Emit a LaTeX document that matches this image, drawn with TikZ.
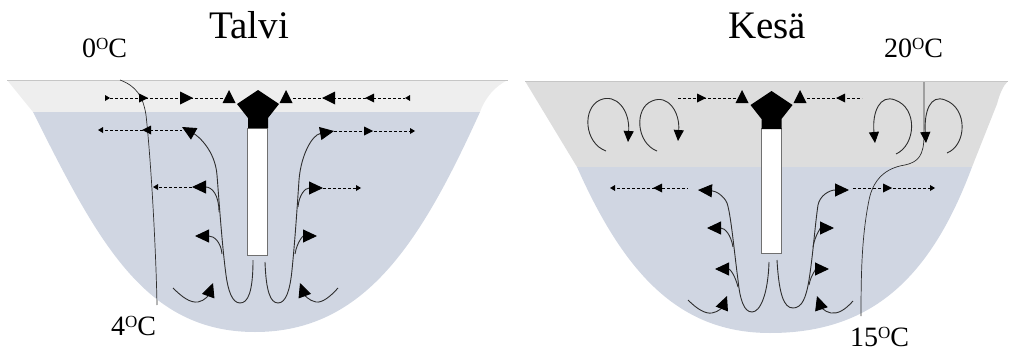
\documentclass[tikz,border=0pt]{standalone}
\usepackage{fontspec}
\setmainfont{Liberation Serif}
\usetikzlibrary{arrows.meta}

\definecolor{icelayer}{HTML}{EEEEEE}
\definecolor{warmlayer}{HTML}{DDDDDD}
\definecolor{water}{HTML}{D0D6E2}
\definecolor{rim}{HTML}{C6C6C6}
\definecolor{flow}{HTML}{2E2E2E}
\definecolor{poleedge}{HTML}{707070}

% superscript "O" used in the temperature labels
\newcommand\tempsup{\raisebox{7.5pt}{\fontsize{17}{17}\selectfont O}}

\tikzset{
  flowline/.style={draw=flow, line width=0.9pt,
    -{Triangle[length=14pt,width=13pt,color=black,fill=black]}},
  swirl/.style={draw=flow, line width=0.9pt,
    -{Triangle[length=11pt,width=10pt,color=black,fill=black]}},
  isotherm/.style={draw=flow, line width=0.7pt},
  dsh/.style={draw=black, line width=0.8pt, dash pattern=on 3pt off 2pt},
  ttl/.style={font=\fontsize{39}{41}\selectfont, inner sep=0pt},
  lbl/.style={font=\fontsize{28}{30}\selectfont, inner sep=0pt},
  tipbig/.pic={\fill (0,0) -- (-13,6.5) -- (-13,-6.5) -- cycle;},
  tipmid/.pic={\fill (0,0) -- (-9,4.5) -- (-9,-4.5) -- cycle;},
  tiptiny/.pic={\fill (0,0) -- (-5,3) -- (-5,-3) -- cycle;},
  aerator/.pic={
    \fill (258,90) -- (279,104) -- (268,118) -- (268,128) -- (248,128)
          -- (248,118) -- (237,104) -- cycle;
  },
}

\begin{document}
\begin{tikzpicture}[x=1pt,y=-1pt]
\useasboundingbox (0,0) rectangle (1014,353);

%% ---------------- winter basin ----------------
\fill[icelayer] (7,80) -- (508,80) .. controls (495,86) and (485,98) .. (480,112)
  -- (33,112) -- cycle;
\draw[rim, line width=0.8pt] (7,80) -- (508,80);
\fill[water] (33,112) .. controls (98,242) and (145,332) .. (255,332)
  .. controls (365,332) and (421,242) .. (480,112) -- cycle;

% isotherm 0 -> 4 C
\draw[isotherm] (120,80) .. controls (136,86) and (143,96) .. (146,115)
  .. controls (151,160) and (156,250) .. (157,305);

% surface flow towards the aerator
\draw[dsh] (110,98) -- (223,98);
\pic at (110,98) {tiptiny};
\pic at (148,98) {tipmid};
\pic at (193,98) {tipbig};
\pic[rotate=90] at (229,90) {tipbig};
\pic[rotate=90] at (286,90) {tipbig};
\draw[dsh] (293,98) -- (405,98);
\pic[rotate=180] at (322,98) {tipbig};
\pic[rotate=180] at (365,98) {tipmid};
\pic[rotate=180] at (405,98) {tiptiny};

% outflow under the ice
\draw[dsh] (100,130) -- (182,130);
\pic[rotate=180] at (98,130) {tiptiny};
\pic[rotate=180] at (142,130) {tipmid};
\draw[dsh] (334,131) -- (413,131);
\pic at (373,131) {tipmid};
\pic at (415,131) {tiptiny};

% rising plume, left side
\draw[flowline] (253,260) .. controls (253,292) and (248,303) .. (240,303)
  .. controls (232,303) and (228,290) .. (226,275)
  .. controls (222,245) and (219,200) .. (217,175)
  .. controls (215,150) and (198,136) .. (182,127);
\draw[flowline] (219,212) .. controls (219,195) and (212,187) .. (192,187);
\draw[flowline] (222,254) .. controls (221,242) and (214,236) .. (195,236);
% rising plume, right side
\draw[flowline] (265,262) .. controls (266,290) and (270,303) .. (278,303)
  .. controls (286,303) and (290,290) .. (292,270)
  .. controls (295,240) and (297,210) .. (299,180)
  .. controls (301,155) and (312,135) .. (334,131);
\draw[flowline] (298,207) .. controls (299,195) and (305,188) .. (323,188);
\draw[flowline] (295,254) .. controls (297,242) and (303,236) .. (317,236);

\draw[dsh] (192,187) -- (155,187);
\pic[rotate=180] at (153,187) {tiptiny};
\draw[dsh] (323,188) -- (358,188);
\pic at (361,188) {tiptiny};

% inflow near the bottom
\draw[flowline] (173,288) .. controls (182,297) and (190,303) .. (198,302)
  .. controls (205,301) and (209,294) .. (213,283);
\draw[flowline] (338,288) .. controls (330,297) and (322,303) .. (316,302)
  .. controls (309,301) and (304,294) .. (300,283);

% aerator
\draw[fill=white, draw=poleedge, line width=0.8pt] (247,128) rectangle (267,255);
\pic {aerator};

%% ---------------- summer basin ----------------
\fill[warmlayer] (525,81) -- (1008,81) .. controls (1003,86) and (1000,93) .. (997,104)
  -- (972,167) -- (577,167) -- cycle;
\draw[rim, line width=0.8pt] (525,81) -- (1008,81);
\fill[water] (577,167) .. controls (625,275) and (680,333) .. (770,333)
  .. controls (870,333) and (930,280) .. (972,167) -- cycle;

% isotherm 20 -> 15 C
\draw[isotherm] (924,82) -- (924,135) .. controls (924,156) and (918,162) .. (905,165)
  .. controls (885,168) and (873,180) .. (869,200)
  .. controls (862,235) and (861,270) .. (861,316);

% surface flow towards the aerator
\draw[dsh] (678,98) -- (736,98);
\pic at (706,98) {tipmid};
\pic[rotate=90] at (742,90) {tipbig};
\draw[dsh] (807,98) -- (862,98);
\pic[rotate=90] at (800,90) {tipbig};
\pic[rotate=180] at (836,98) {tipmid};

% mixing eddies in the warm layer
\draw[swirl] (606,151) .. controls (584,143) and (582,108) .. (600,100)
  .. controls (616,93) and (630,110) .. (628,142);
\draw[swirl] (657,151) .. controls (636,143) and (634,108) .. (652,101)
  .. controls (668,94) and (680,112) .. (678,141);
\draw[swirl] (896,154) .. controls (916,145) and (918,108) .. (895,100)
  .. controls (880,94) and (872,112) .. (875,143);
\draw[swirl] (947,153) .. controls (967,145) and (968,108) .. (945,100)
  .. controls (930,94) and (924,112) .. (926,143);

% outflow below the warm layer
\draw[dsh] (612,188) -- (688,188);
\pic[rotate=180] at (610,188) {tiptiny};
\pic[rotate=180] at (653,188) {tipmid};
\draw[dsh] (853,188) -- (932,188);
\pic at (892,188) {tipmid};
\pic at (935,188) {tiptiny};

% rising plume, left side
\draw[flowline] (769,262) .. controls (768,295) and (760,312) .. (752,312)
  .. controls (744,312) and (740,300) .. (738,280)
  .. controls (734,250) and (731,215) .. (727,203)
  .. controls (724,196) and (716,191) .. (698,190);
\draw[flowline] (733,247) .. controls (731,235) and (725,228) .. (707,228);
\draw[flowline] (738,287) .. controls (735,275) and (730,269) .. (715,269);
% rising plume, right side
\draw[flowline] (777,260) .. controls (779,295) and (784,308) .. (793,308)
  .. controls (802,308) and (806,298) .. (809,280)
  .. controls (813,255) and (815,225) .. (818,205)
  .. controls (820,195) and (830,190) .. (849,190);
\draw[flowline] (813,247) .. controls (815,235) and (821,228) .. (834,228);
\draw[flowline] (809,285) .. controls (811,274) and (817,269) .. (829,269);

% inflow near the bottom
\draw[flowline] (688,300) .. controls (697,309) and (705,314) .. (712,313)
  .. controls (719,312) and (723,306) .. (727,296);
\draw[flowline] (853,301) .. controls (845,310) and (838,314) .. (831,313)
  .. controls (824,312) and (820,305) .. (817,296);

% aerator
\draw[fill=white, draw=poleedge, line width=0.8pt] (761,128) rectangle (781,253);
\begin{scope}[shift={(513.5,1)}]
  \pic {aerator};
\end{scope}

%% ---------------- labels ----------------
\node[ttl, anchor=base] (talvi) at (249,38) {Talvi};
\node[ttl, anchor=base] (kesa) at (767,38) {Kesä};
\node[lbl, anchor=base west] (t0) at (82,57) {0\tempsup C};
\node[lbl, anchor=base west] (t4) at (111,335) {4\tempsup C};
\node[lbl, anchor=base west] (t20) at (884,57) {20\tempsup C};
\node[lbl, anchor=base west] (t15) at (850,346) {15\tempsup C};
\end{tikzpicture}
\end{document}
